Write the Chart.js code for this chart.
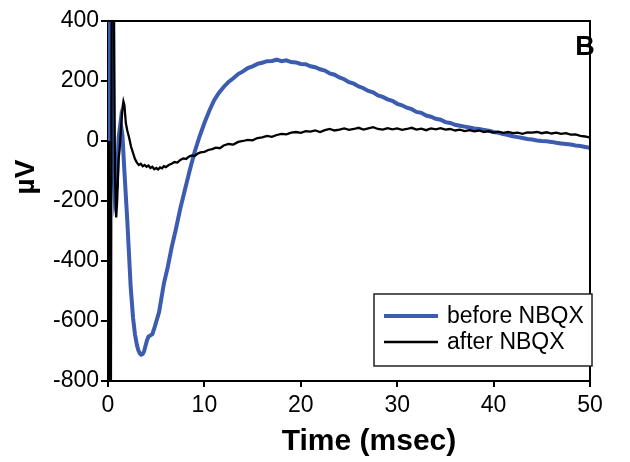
<!DOCTYPE html>
<html>
<head>
<meta charset="utf-8">
<script src="https://cdn.jsdelivr.net/npm/chart.js@4.4.1/dist/chart.umd.min.js"></script>
<style>
html,body{margin:0;padding:0;background:#fff;}
canvas{display:block;}
</style>
</head>
<body>
<canvas id="c" width="630" height="462"></canvas>
<script>
// ---- Data ----
const xTickLabels = ['0','10','20','30','40','50'];
const yTickLabels = ['-800','-600','-400','-200','0','200','400'];
const seriesNames = ['before NBQX', 'after NBQX'];

const beforeTime = [
  0.0,0.05,0.35,0.5,0.7,0.9,1.1,1.3,1.5,1.7,2.0,2.35,2.6,2.8,3.0,3.15,3.3,3.45,3.6,3.75,3.9,4.05,4.2,4.4,4.6,4.8,5.3,5.8,6.2,6.6,7.0,7.5,8.0,8.5,9.0,9.5,
  10.0,10.5,11.0,11.5,12.0,12.5,13.0,13.5,14.0,14.5,15.0,15.5,16.0,16.5,17.0,17.5,18.0,18.5,19.0,19.5,
  20.0,20.5,21.0,21.5,22.0,22.5,23.0,23.5,24.0,24.5,25.0,25.5,26.0,26.5,27.0,27.5,28.0,28.5,29.0,29.5,
  30.0,30.5,31.0,31.5,32.0,32.5,33.0,33.5,34.0,34.5,35.0,35.5,36.0,36.5,37.0,37.5,38.0,38.5,39.0,39.5,
  40.0,40.5,41.0,41.5,42.0,42.5,43.0,43.5,44.0,44.5,45.0,45.5,46.0,46.5,47.0,47.5,48.0,48.5,49.0,49.5,50.0
];
const beforeValues = [
  -150,450,450,-60,-190,-150,10,62,20,-100,-265,-485,-590,-645,-680,-698,-708,-712,-710,-700,-682,-664,-652,-648,-644,-625,-570,-475,-420,-355,-300,-225,-160,-95,-35,15,
  60,100,135,160,180,197,209,223,232,243,249,257,261,266,267,271,266,269,263,262,
  257,256,249,246,239,235,225,221,212,206,196,191,182,176,167,162,152,147,139,134,
  124,119,111,106,97,94,85,81,74,71,63,60,54,51,48,45,42,40,37,34,
  30,27,23,20,16,13,10,7,5,2,0,-1,-3,-6,-8,-10,-12,-15,-17,-20,-23
];

const afterTime = [
  0.0,0.1,0.2,0.3,0.38,0.5,0.62,0.72,0.85,0.95,1.1,1.2,1.35,1.5,1.6,1.7,1.85,2.0,2.2,2.4,2.6,2.8,
  3.0,3.2,3.4,3.6,3.8,4.0,4.2,4.4,4.6,4.8,5.0,5.2,5.4,5.6,5.8,6.0,6.3,6.6,6.9,7.2,7.5,7.8,8.1,8.4,8.7,
  9.0,9.3,9.6,10.0,10.4,10.8,11.2,11.6,12.0,12.5,13.0,13.5,14.0,14.5,15.0,15.5,16.0,16.5,17.0,17.5,
  18.0,18.5,19.0,19.5,20.0,20.5,21.0,21.5,22.0,22.5,23.0,23.5,24.0,24.5,25.0,25.5,26.0,26.5,27.0,27.5,
  28.0,28.5,29.0,29.5,30.0,30.5,31.0,31.5,32.0,32.5,33.0,33.5,34.0,34.5,35.0,35.5,36.0,36.5,37.0,37.5,
  38.0,38.5,39.0,39.5,40.0,40.5,41.0,41.5,42.0,42.5,43.0,43.5,44.0,44.5,45.0,45.5,46.0,46.5,47.0,47.5,
  48.0,48.5,49.0,49.5,50.0
];
const afterValues = [
  0,-100,-850,-850,450,450,450,-100,-255,-200,-60,-30,40,110,132,120,60,35,10,-20,-40,-60,
  -72,-80,-76,-84,-80,-86,-82,-90,-86,-94,-90,-95,-88,-91,-84,-87,-80,-76,-70,-72,-63,-58,-60,-52,-48,
  -50,-42,-38,-36,-30,-27,-22,-24,-15,-10,-12,-3,0,4,2,10,12,17,14,20,
  24,22,28,30,27,33,31,35,30,36,40,35,38,42,37,40,44,38,42,46,
  40,38,43,39,42,37,40,44,38,41,36,42,39,43,38,40,35,38,33,36,
  32,35,30,33,28,31,27,30,26,28,24,29,28,30,26,29,25,28,24,26,
  21,22,17,15,11
];

// ---- Styles ----
const BLUE = '#3c5cb0';
const BLACK = '#000000';
const FONT = "'Liberation Sans', Arial, sans-serif";

const toPoints = (ts, vs) => ts.map((t, i) => ({x: t, y: vs[i]}));

const decorPlugin = {
  id: 'decor',
  afterDraw(chart) {
    const {ctx, chartArea: a} = chart;
    ctx.save();
    // top and right frame
    ctx.strokeStyle = '#000';
    ctx.lineWidth = 2;
    ctx.beginPath();
    ctx.moveTo(a.left, a.top);
    ctx.lineTo(a.right, a.top);
    ctx.lineTo(a.right, a.bottom);
    ctx.stroke();

    // panel letter
    ctx.fillStyle = '#000';
    ctx.font = "bold 27px " + FONT;
    ctx.textAlign = 'center';
    ctx.textBaseline = 'middle';
    ctx.fillText('B', 585, 48);

    // axis titles
    ctx.font = "bold 30px " + FONT;
    ctx.fillText('Time (msec)', 369, 442);
    ctx.save();
    ctx.translate(26, 177);
    ctx.rotate(-Math.PI / 2);
    ctx.font = "bold 28px " + FONT;
    ctx.fillText('\u00b5V', 0, 0);
    ctx.restore();

    // legend box
    ctx.fillStyle = '#fff';
    ctx.fillRect(374, 294, 218, 72);
    ctx.strokeStyle = '#222';
    ctx.lineWidth = 1.5;
    ctx.strokeRect(374, 294, 218, 72);
    const entries = [[seriesNames[0], BLUE, 4, 316], [seriesNames[1], BLACK, 2.5, 342]];
    ctx.textAlign = 'left';
    ctx.font = "23px " + FONT;
    entries.forEach(([label, col, w, y]) => {
      ctx.strokeStyle = col;
      ctx.lineWidth = w;
      ctx.beginPath();
      ctx.moveTo(384, y);
      ctx.lineTo(438, y);
      ctx.stroke();
      ctx.fillStyle = '#000';
      ctx.fillText(label, 447, y + 1);
    });
    ctx.restore();
  }
};

new Chart(document.getElementById('c'), {
  type: 'line',
  data: {
    datasets: [
      {
        label: seriesNames[0],
        data: toPoints(beforeTime, beforeValues),
        borderColor: BLUE,
        borderWidth: 4,
        pointRadius: 0,
        tension: 0,
        fill: false,
        order: 2
      },
      {
        label: seriesNames[1],
        data: toPoints(afterTime, afterValues),
        borderColor: BLACK,
        borderWidth: 2.3,
        pointRadius: 0,
        tension: 0,
        fill: false,
        order: 1
      }
    ]
  },
  options: {
    responsive: false,
    animation: false,
    devicePixelRatio: 1,
    layout: {padding: {left: 0, top: 21, right: 40, bottom: 0}},
    plugins: {legend: {display: false}, tooltip: {enabled: false}, title: {display: false}},
    scales: {
      x: {
        type: 'linear',
        min: 0, max: 50,
        afterFit: s => { s.height = 81; },
        afterBuildTicks: s => { s.ticks = xTickLabels.map(v => ({value: Number(v)})); },
        ticks: {
          color: '#000',
          font: {family: FONT, size: 23},
          padding: 5,
          maxRotation: 0,
          callback: v => String(v)
        },
        grid: {display: true, drawOnChartArea: false, drawTicks: true, tickLength: 6, color: '#000', lineWidth: 2},
        border: {display: true, color: '#000', width: 2}
      },
      y: {
        type: 'linear',
        min: -800, max: 400,
        afterFit: s => { s.width = 108; },
        afterBuildTicks: s => { s.ticks = yTickLabels.map(v => ({value: Number(v)})); },
        ticks: {
          color: '#000',
          font: {family: FONT, size: 23},
          padding: 2,
          callback: v => String(v)
        },
        grid: {display: true, drawOnChartArea: false, drawTicks: true, tickLength: 7, color: '#000', lineWidth: 2},
        border: {display: true, color: '#000', width: 2}
      }
    }
  },
  plugins: [decorPlugin]
});
</script>
</body>
</html>
